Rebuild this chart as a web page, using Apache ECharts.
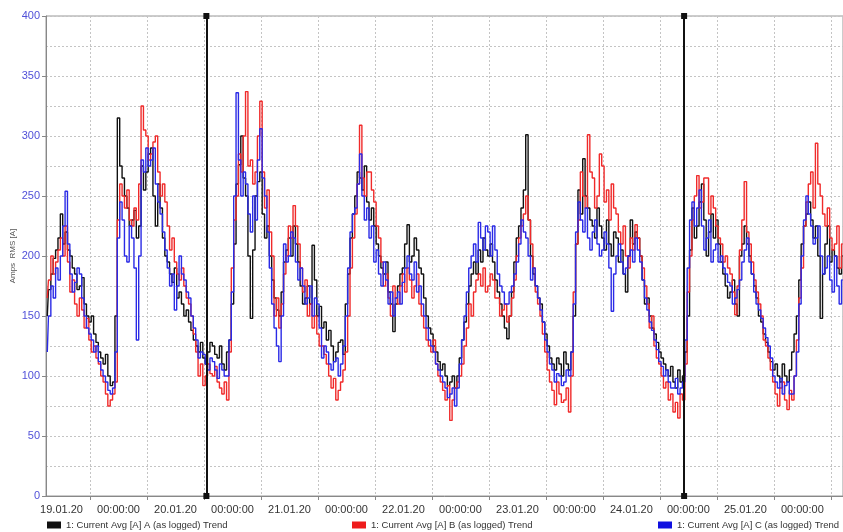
<!DOCTYPE html>
<html><head><meta charset="utf-8">
<script src="https://cdn.jsdelivr.net/npm/echarts@6/dist/echarts.min.js"></script>
<style>html,body{margin:0;padding:0;background:#fff}#c{width:843px;height:532px}</style>
</head><body><div id="c"></div>
<script>
// time axis in hours; first sample at startHour, one sample every half hour
const startHour = -3;
const stepHours = 0.5;
const xLabels = ['19.01.20','00:00:00','20.01.20','00:00:00','21.01.20','00:00:00','22.01.20','00:00:00','23.01.20','00:00:00','24.01.20','00:00:00','25.01.20','00:00:00'];
const labelHours = [0,12,24,36,48,60,72,84,96,108,120,132,144,156];
const tickHours = [6,18,30,42,54,66,78,90,102,114,126,138,150,162];
const cursorHours = [30.5, 131.1];
const seriesNames = ['1: Current Avg [A] A (as logged) Trend','1: Current Avg [A] B (as logged) Trend','1: Current Avg [A] C (as logged) Trend'];

const currentA = [150,172,185,198,205,215,235,210,220,205,200,190,185,172,175,182,160,150,145,150,135,128,120,115,110,118,100,92,95,150,
315,275,265,250,240,225,230,238,215,225,275,255,270,285,290,250,225,260,240,215,200,195,185,178,190,165,170,160,150,155,
145,138,130,125,120,128,115,110,120,128,125,118,115,125,110,105,120,130,160,210,260,276,300,265,250,200,148,205,250,262,
270,235,215,225,200,180,165,155,150,170,195,205,215,200,225,210,195,175,160,165,175,160,209,180,150,158,140,145,130,138,
125,112,120,128,130,118,160,185,215,235,250,270,265,255,275,245,230,240,225,210,200,190,185,195,170,160,137,160,175,185,
190,210,226,195,200,215,205,190,185,165,150,140,135,125,120,112,105,110,100,92,95,100,90,100,115,130,145,160,175,185,
195,185,205,195,215,205,200,210,195,180,170,160,150,140,131,150,170,195,215,225,240,255,301,230,200,185,175,165,160,145,
135,125,115,110,105,115,110,100,120,110,105,120,150,210,255,235,281,250,240,230,225,215,240,225,215,205,230,210,200,220,
215,195,205,185,170,200,230,210,220,215,200,180,160,165,150,140,135,128,120,115,110,105,100,108,95,90,105,95,100,120,
150,205,240,215,225,245,260,230,200,220,235,215,230,210,195,185,175,165,170,180,160,150,200,210,225,210,200,185,175,165,
150,145,135,128,120,112,105,110,100,95,110,100,95,105,120,135,150,180,210,225,235,245,230,215,225,200,148,185,210,225,
195,205,200,190,185,200];
const currentB = [165,180,200,185,195,205,215,200,225,195,170,180,160,150,165,155,140,148,130,120,125,115,110,100,95,85,75,80,85,95,
230,260,250,240,255,230,225,240,230,260,325,305,300,280,285,295,300,270,250,260,245,225,205,215,195,185,180,190,175,165,
160,150,135,120,100,110,92,100,110,102,100,108,95,90,85,95,80,120,190,230,250,285,270,300,337,275,280,260,270,300,
329,270,240,255,220,200,150,165,140,160,185,200,225,215,242,225,210,190,170,180,150,160,140,150,135,125,125,118,110,100,
90,98,80,88,95,105,120,150,190,215,235,260,309,265,250,270,270,255,245,225,215,195,175,185,165,150,175,165,160,175,
185,170,190,180,165,175,185,160,150,140,130,125,120,130,110,100,95,88,80,92,63,80,90,95,100,110,125,140,160,150,
170,180,185,175,190,170,175,185,180,165,165,150,155,160,145,150,165,180,200,215,225,235,250,230,210,190,170,160,150,135,
120,105,95,88,76,95,85,78,80,90,70,100,170,210,230,270,250,240,301,270,265,240,250,285,275,245,255,230,260,240,
235,220,210,225,200,190,215,205,226,215,200,190,175,160,140,150,125,115,110,100,90,95,80,85,70,78,65,85,80,110,
170,200,230,250,267,240,245,265,265,235,250,240,225,215,210,195,200,190,185,170,151,175,205,230,262,220,210,195,180,170,
160,150,130,125,115,105,95,85,75,90,95,80,72,88,80,100,130,165,190,225,245,260,270,240,294,260,250,235,225,240,
215,205,210,225,190,210];
const currentC = [120,150,175,165,190,180,200,225,254,210,185,170,178,190,185,165,150,140,135,130,120,125,112,105,100,95,88,85,90,120,
215,245,230,200,195,225,215,190,130,200,280,270,290,275,280,290,260,245,235,220,205,190,175,185,155,175,200,185,180,170,
165,150,140,130,115,120,118,110,105,115,112,105,98,110,105,100,100,130,170,250,336,280,250,270,260,235,220,250,230,280,
306,265,250,220,190,160,140,125,112,150,210,195,200,220,215,195,180,190,175,160,165,175,150,165,160,140,115,125,120,110,
105,112,115,100,110,125,150,190,220,235,240,260,285,250,230,240,215,225,195,205,185,175,195,180,160,170,150,165,170,160,
178,190,200,185,180,195,170,175,160,150,140,130,125,120,110,105,100,95,90,82,85,90,75,90,110,130,150,170,190,200,
210,195,228,215,205,225,220,200,225,205,185,175,170,160,160,170,175,185,195,210,230,220,215,200,180,190,175,165,155,145,
130,120,110,105,95,102,100,92,95,105,100,120,160,220,245,230,220,240,215,205,220,230,210,200,205,220,210,190,154,185,
200,210,195,185,190,200,205,195,215,205,195,180,165,155,145,138,130,122,112,108,100,105,95,90,90,98,85,90,95,130,
190,230,245,225,240,255,225,205,215,230,195,205,210,195,200,190,185,178,175,160,165,172,180,195,205,215,195,185,170,160,
155,148,140,132,125,115,100,95,90,98,85,92,95,85,85,100,120,160,200,230,250,235,225,210,215,225,200,185,190,200,
180,170,200,175,160,180];

function toPairs(arr){ return arr.map((v,i)=>[startHour + i*stepHours, v]); }

const gridDot = {color:'#c4c4c4', type:[2,2], width:1};
const chart = echarts.init(document.getElementById('c'), null, {renderer:'canvas'});
const legendBase = (name, left) => ({
  left: left, top: 515, itemWidth: 14, itemHeight: 7, itemGap: 6,
  icon: 'rect', data: [name],
  textStyle: {fontSize: 9.5, color: '#333', fontFamily: 'Liberation Sans, Arial, sans-serif'}
});
chart.setOption({
  animation: false,
  backgroundColor: '#fff',
  textStyle: {fontFamily: 'Liberation Sans, Arial, sans-serif'},
  grid: {left: 46, top: 16, right: 0, bottom: 36, show: true, borderColor: '#999', borderWidth: 1,
         containLabel: false, outerBoundsMode: 'none'},
  legend: [legendBase(seriesNames[0], 42), legendBase(seriesNames[1], 347), legendBase(seriesNames[2], 653)],
  xAxis: {
    type: 'value', min: -3.27, max: 164.56,
    axisLine: {show: true, onZero: false, lineStyle: {color: '#888'}},
    axisTick: {show: true, length: 4, customValues: tickHours, lineStyle: {color: '#888'}},
    axisLabel: {customValues: labelHours, color: '#333', fontSize: 11, margin: 8,
      formatter: v => xLabels[labelHours.indexOf(Math.round(v))] || ''},
    splitLine: {show: true, lineStyle: gridDot}
  },
  yAxis: {
    type: 'value', min: 0, max: 400, interval: 50,
    name: 'Amps  RMS [A]', nameLocation: 'middle', nameGap: 29, nameMoveOverlap: false,
    nameTextStyle: {fontSize: 8, color: '#555'},
    axisLine: {show: true, onZero: false, lineStyle: {color: '#888'}},
    axisTick: {show: true, length: 4, lineStyle: {color: '#888'}},
    axisLabel: {color: '#5050d8', fontSize: 11, margin: 6},
    splitLine: {show: true, lineStyle: gridDot},
    minorTick: {show: false, splitNumber: 2},
    minorSplitLine: {show: true, lineStyle: gridDot}
  },
  series: [
    {name: seriesNames[0], type: 'line', step: 'middle', showSymbol: false, data: toPairs(currentA),
     itemStyle: {color: '#111'}, lineStyle: {color: '#111', width: 1.4},
     markLine: {silent: true, symbol: ['rect','rect'], symbolSize: 6, label: {show: false},
       lineStyle: {color: '#111', width: 2, type: 'solid'},
       data: cursorHours.map(h => ({xAxis: h}))}},
    {name: seriesNames[1], type: 'line', step: 'middle', showSymbol: false, data: toPairs(currentB),
     itemStyle: {color: '#ee1c1c'}, lineStyle: {color: '#f02a2a', width: 1.4}},
    {name: seriesNames[2], type: 'line', step: 'middle', showSymbol: false, data: toPairs(currentC),
     itemStyle: {color: '#1010e0'}, lineStyle: {color: '#2a2ae6', width: 1.4}}
  ]
});
</script></body></html>
